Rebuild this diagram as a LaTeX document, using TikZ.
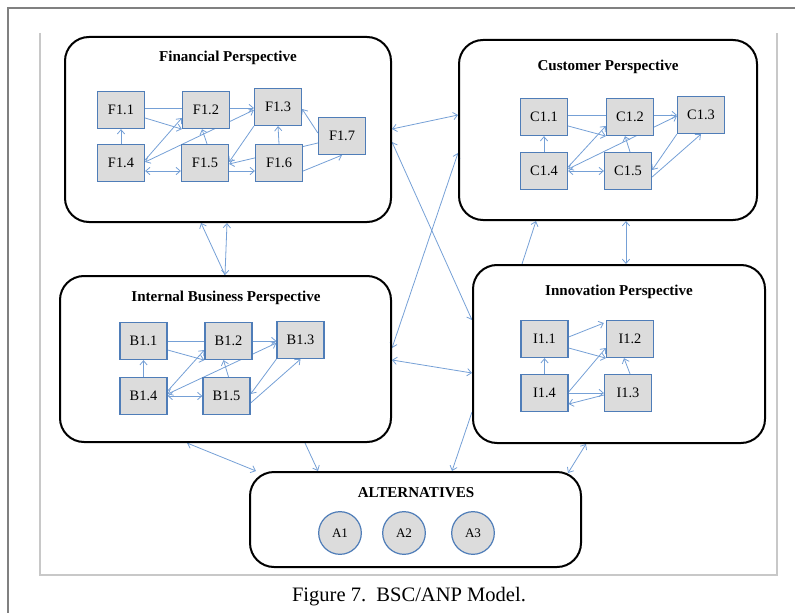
\documentclass[tikz,border=0pt]{standalone}
\usepackage{fontspec}
\setmainfont{Liberation Serif}
\usetikzlibrary{arrows.meta,backgrounds,calc}
\definecolor{edgeblue}{HTML}{75A0D6}
\definecolor{boxblue}{HTML}{4F7DB8}
\definecolor{boxgray}{HTML}{DCDCDC}
\definecolor{framegray}{HTML}{808080}
\definecolor{linegray}{HTML}{C8C8C8}
\begin{document}
\begin{tikzpicture}[x=0.75pt,y=-0.75pt,
  cluster/.style={draw=black,line width=1.5pt,rounded corners=18pt,inner sep=0pt},
  elem/.style={draw=boxblue,fill=boxgray,line width=1.2pt,minimum width=35pt,minimum height=27.5pt,inner sep=0pt,font=\fontsize{10.8}{12}\selectfont},
  altnode/.style={circle,draw=boxblue,fill=boxgray,line width=0.9pt,minimum size=32pt,inner sep=0pt,font=\fontsize{9.8}{11}\selectfont},
  ctitle/.style={font=\fontsize{11.3}{13}\selectfont\bfseries},
  link/.style={draw=edgeblue,line width=0.6pt,-{Straight Barb[length=3.2pt,width=5.5pt]}},
  dlink/.style={draw=edgeblue,line width=0.6pt,{Straight Barb[length=3.2pt,width=5.5pt]}-{Straight Barb[length=3.2pt,width=5.5pt]}},
]
\useasboundingbox (0,0) rectangle (795,613);
% page frame
\draw[framegray,line width=1.2pt] (8,613) -- (8,8) -- (795,8);
\draw[linegray,line width=0.8pt] (40,33) -- (40,575) -- (777,575) -- (777,33);

% clusters
\node[cluster,minimum width=244.5pt,minimum height=138.75pt] (F) at (228,129.5) {};
\node[cluster,minimum width=223.5pt,minimum height=135pt] (C) at (608,130) {};
\node[cluster,minimum width=248.25pt,minimum height=124.5pt] (B) at (225.5,359) {};
\node[cluster,minimum width=219pt,minimum height=133.5pt] (I) at (619,354) {};
\node[cluster,minimum width=248.25pt,minimum height=71.25pt] (Alt) at (415.5,519.5) {};

\node[ctitle] (Ft) at (228,58) {Financial Perspective};
\node[ctitle] (Ct) at (608,67) {Customer Perspective};
\node[ctitle] (Bt) at (226,298) {Internal Business Perspective};
\node[ctitle] (It) at (619,292) {Innovation Perspective};
\node[ctitle] (At) at (416,493) {ALTERNATIVES};

% financial elements
\node[elem] (F11) at (121,110) {F1.1};
\node[elem] (F12) at (206,110) {F1.2};
\node[elem] (F13) at (278,107) {F1.3};
\node[elem] (F17) at (342,136) {F1.7};
\node[elem] (F14) at (121,163) {F1.4};
\node[elem] (F15) at (205,163) {F1.5};
\node[elem] (F16) at (279,163) {F1.6};

% customer elements
\node[elem] (C11) at (544,117) {C1.1};
\node[elem] (C12) at (630,117) {C1.2};
\node[elem] (C13) at (701,115) {C1.3};
\node[elem] (C14) at (544,171) {C1.4};
\node[elem] (C15) at (628,171) {C1.5};

% internal business elements
\node[elem] (B11) at (143.5,341) {B1.1};
\node[elem] (B12) at (228.5,341) {B1.2};
\node[elem] (B13) at (300.5,340) {B1.3};
\node[elem] (B14) at (143.5,396) {B1.4};
\node[elem] (B15) at (226.5,396) {B1.5};

% innovation elements
\node[elem] (I11) at (544.5,339) {I1.1};
\node[elem] (I12) at (630,339) {I1.2};
\node[elem] (I14) at (544.5,393) {I1.4};
\node[elem] (I13) at (628,393) {I1.3};

% alternatives
\node[altnode] (A1) at (340,533) {A1};
\node[altnode] (A2) at (404,533) {A2};
\node[altnode] (A3) at (473,533) {A3};

% caption
\node[font=\fontsize{15.4}{18}\selectfont] (cap) at (409,597) {Figure 7.\ \ BSC/ANP Model.};

\begin{pgfonlayer}{background}
% financial links
\draw[link] ($(F11.east)+(0,-2)$) -- ($(F13.west)+(0,1)$);
\draw[link] ($(F11.east)+(0,8)$) -- (F12.south west);
\draw[link] (F14.north) -- (F11.south);
\draw[link] ($(F14.east)+(0,-3)$) -- ($(F12.west)+(0,8)$);
\draw[dlink] ($(F14.east)+(0,-1)$) -- ($(F13.west)+(0,3)$);
\draw[dlink] ($(F14.east)+(0,8)$) -- ($(F15.west)+(0,8)$);
\draw[link] ($(F15.north)+(2,0)$) -- ($(F12.south)+(-4,0)$);
\draw[link] ($(F15.east)+(0,8)$) -- ($(F16.west)+(0,8)$);
\draw[link] (F13.south west) -- ($(F15.east)+(0,-1)$);
\draw[link] ($(F17.west)+(0,7)$) -- ($(F15.east)+(0,1)$);
\draw[link] (F16.north) -- (F13.south);
\draw[link] ($(F17.west)+(0,-3)$) -- ($(F13.east)+(0,2)$);
\draw[link] ($(F16.east)+(0,8)$) -- (F17.south);

% customer links
\draw[link] ($(C11.east)+(0,-2)$) -- (C13.west);
\draw[link] ($(C11.east)+(0,9)$) -- (C12.south west);
\draw[link] (C14.north) -- (C11.south);
\draw[link] ($(C14.east)+(0,-4)$) -- ($(C12.west)+(0,9)$);
\draw[dlink] ($(C14.east)+(0,-2)$) -- ($(C13.west)+(0,1)$);
\draw[dlink] (C14.east) -- (C15.west);
\draw[link] ($(C15.north)+(2,0)$) -- ($(C12.south)+(-5,0)$);
\draw[link] (C13.south west) -- ($(C15.east)+(0,-1)$);
\draw[link] ($(C15.east)+(0,6)$) -- (C13.south);

% internal business links
\draw[link] (B11.east) -- ($(B13.west)+(0,1)$);
\draw[link] ($(B11.east)+(0,9)$) -- (B12.south west);
\draw[link] (B14.north) -- (B11.south);
\draw[link] ($(B14.east)+(0,-5)$) -- ($(B12.west)+(0,9)$);
\draw[dlink] ($(B14.east)+(0,-2)$) -- ($(B13.west)+(0,3)$);
\draw[dlink] (B14.east) -- (B15.west);
\draw[link] ($(B15.north)+(2,0)$) -- ($(B12.south)+(-5,0)$);
\draw[link] (B13.south west) -- ($(B15.east)+(0,-2)$);
\draw[link] ($(B15.east)+(0,7)$) -- (B13.south);

% innovation links
\draw[link] ($(I11.east)+(0,-2)$) -- ($(I12.west)+(-2,-16)$);
\draw[link] ($(I11.east)+(0,9)$) -- (I12.south west);
\draw[link] (I14.north) -- (I11.south);
\draw[link] ($(I14.east)+(0,-1)$) -- ($(I12.west)+(0,9)$);
\draw[link] (I14.east) -- (I13.west);
\draw[link] ($(I13.west)+(0,2)$) -- ($(I14.east)+(0,11)$);
\draw[link] ($(I13.north)+(2,0)$) -- ($(I12.south)+(-6,0)$);

% inter-cluster links
\draw[dlink] (F.east |- 0,129) -- (C.west |- 0,115);
\draw[dlink] (F.east |- 0,142) -- (I.west |- 0,320);
\draw[dlink] (C.west |- 0,153) -- (B.east |- 0,348);
\draw[dlink] (B.east |- 0,360) -- (I.west |- 0,373);
\draw[link] (B.north -| 225,0) -- (F.south -| 201,0);
\draw[dlink] (F.south -| 227,0) -- (B.north -| 225,0);
\draw[link] (I.north -| 522,0) -- (C.south -| 536,0);
\draw[dlink] (C.south -| 626,0) -- (I.north -| 626,0);
\draw[dlink] (B.south -| 187,0) -- (Alt.north -| 256,0);
\draw[link] (B.south -| 305,0) -- (Alt.north -| 318,0);
\draw[link] (I.west |- 0,412) -- (Alt.north -| 452,0);
\draw[dlink] (I.south -| 586,0) -- ($(Alt.north -| 568,0)+(0,2)$);
\end{pgfonlayer}
\end{tikzpicture}
\end{document}
